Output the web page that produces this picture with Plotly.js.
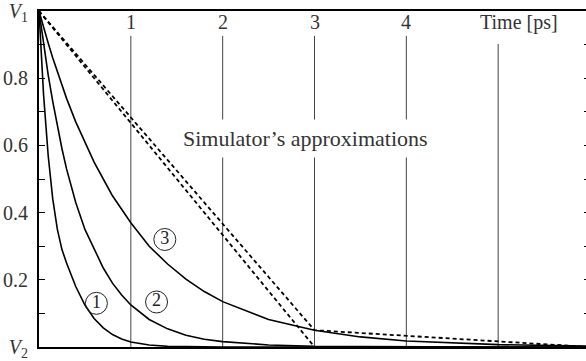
<!DOCTYPE html>
<html>
<head>
<meta charset="utf-8">
<script src="https://cdn.plot.ly/plotly-3.0.1.min.js"></script>
<style>
  html, body { margin: 0; padding: 0; background: #fff; overflow: hidden; }
  #chart { width: 590px; height: 361px; }
</style>
</head>
<body>
<div id="chart"></div>
<script>
// Time samples [ps]
const timePs = [0, 0.05, 0.1, 0.15, 0.2, 0.25, 0.3, 0.4, 0.5, 0.6, 0.7, 0.8, 0.9, 1.0, 1.2, 1.4, 1.6, 1.8, 2.0, 2.5, 3.0, 3.5, 4.0, 5.0, 6.0];

// Voltage waveforms (normalised between V2 = 0 and V1 = 1)
const wave1 = [1, 0.75, 0.57, 0.44, 0.35, 0.29, 0.25, 0.18, 0.125, 0.085, 0.057, 0.037, 0.024, 0.015, 0.006, 0.002, 0.001, 0, 0, 0, 0, 0, 0, 0, 0];
const wave2 = [1, 0.90, 0.81, 0.73, 0.655, 0.59, 0.53, 0.43, 0.35, 0.29, 0.235, 0.19, 0.155, 0.125, 0.082, 0.054, 0.035, 0.023, 0.016, 0.006, 0.002, 0.001, 0, 0, 0];
const wave3 = [1, 0.95, 0.905, 0.86, 0.82, 0.78, 0.74, 0.67, 0.61, 0.55, 0.50, 0.45, 0.41, 0.37, 0.30, 0.247, 0.202, 0.165, 0.135, 0.082, 0.05, 0.03, 0.018, 0.007, 0.0025];

// Simulator's piecewise-linear approximations
const approxA_t = [0, 3];
const approxA_v = [1, 0];
const approxB_t = [0, 3, 6];
const approxB_v = [1, 0.05, 0];

// Axis labels
const yTickVals = [0, 0.1, 0.2, 0.3, 0.4, 0.5, 0.6, 0.7, 0.8, 0.9, 1.0];
const yTickText = ['<i>V</i><sub>2</sub>', '', '0.2', '', '0.4', '', '0.6', '', '0.8', '', '<i>V</i><sub>1</sub>'];
const xGridVals = [1, 2, 3, 4, 5];
const xTickVals = [1, 2, 3, 4];
const xTickText = ['1', '2', '3', '4'];
const xAxisLabel = 'Time [ps]';
const approxLabel = 'Simulator’s approximations';

// Curve markers: numbered circles
const markerText = ['1', '2', '3'];
const markerT = [0.625, 1.28, 1.37];
const markerV = [0.13, 0.134, 0.32];

const serif = "'Liberation Serif', 'Times New Roman', serif";
const labelColor = '#333';

const curveLine = { color: '#000', width: 1.6, shape: 'linear' };
const dashed = { color: '#000', width: 1.8, dash: '4px,3px' };

const traces = [
  { x: timePs, y: wave1, mode: 'lines', line: curveLine, hoverinfo: 'skip' },
  { x: timePs, y: wave2, mode: 'lines', line: curveLine, hoverinfo: 'skip' },
  { x: timePs, y: wave3, mode: 'lines', line: curveLine, hoverinfo: 'skip' },
  { x: approxA_t, y: approxA_v, mode: 'lines', line: dashed, hoverinfo: 'skip' },
  { x: approxB_t, y: approxB_v, mode: 'lines', line: dashed, hoverinfo: 'skip' },
  {
    x: markerT, y: markerV, text: markerText, mode: 'markers+text',
    textposition: 'middle center',
    textfont: { family: serif, size: 18, color: '#222' },
    marker: { symbol: 'circle', size: 22, color: 'rgba(0,0,0,0)', line: { color: '#222', width: 1 } },
    hoverinfo: 'skip'
  }
];

// Vertical time markers stop short of the top edge to leave room for labels
const gridTop = [0.926, 0.926, 0.926, 0.926, 0.902];
const shapes = xGridVals.map((xv, i) => ({
  type: 'line', xref: 'x', yref: 'y', layer: 'below',
  x0: xv, x1: xv, y0: 0, y1: gridTop[i],
  line: { color: '#444', width: 1 }
}));

const annotations = [];
xTickVals.forEach((xv, i) => {
  annotations.push({
    x: xv, y: 0.966, xref: 'x', yref: 'y', text: xTickText[i], showarrow: false,
    font: { family: serif, size: 20, color: labelColor }
  });
});
annotations.push({
  x: 5.23, y: 0.966, xref: 'x', yref: 'y', text: xAxisLabel, showarrow: false,
  font: { family: serif, size: 20, color: labelColor }
});
annotations.push({
  x: 2.90, y: 0.622, xref: 'x', yref: 'y', text: approxLabel, showarrow: false,
  bgcolor: '#fff', borderpad: 6,
  font: { family: serif, size: 22, color: labelColor }
});

const layout = {
  width: 590, height: 361,
  margin: { l: 39, r: 0, t: 11, b: 14, pad: 0 },
  paper_bgcolor: '#fff', plot_bgcolor: '#fff',
  showlegend: false,
  xaxis: {
    range: [0, 6], showgrid: false, zeroline: false,
    showline: true, mirror: true, linecolor: '#000', linewidth: 2,
    ticks: '', showticklabels: false, fixedrange: true
  },
  yaxis: {
    range: [0, 1], showgrid: false, zeroline: false,
    showline: true, mirror: 'ticks', linecolor: '#000', linewidth: 2,
    tickmode: 'array', tickvals: yTickVals, ticktext: yTickText,
    ticks: 'inside', ticklen: 6, tickwidth: 1, tickcolor: '#000',
    ticklabelstandoff: 5, ticklabeloverflow: 'allow',
    tickfont: { family: serif, size: 20, color: labelColor },
    fixedrange: true
  },
  shapes: shapes,
  annotations: annotations
};

Plotly.newPlot('chart', traces, layout, { staticPlot: true, displayModeBar: false });
</script>
</body>
</html>
